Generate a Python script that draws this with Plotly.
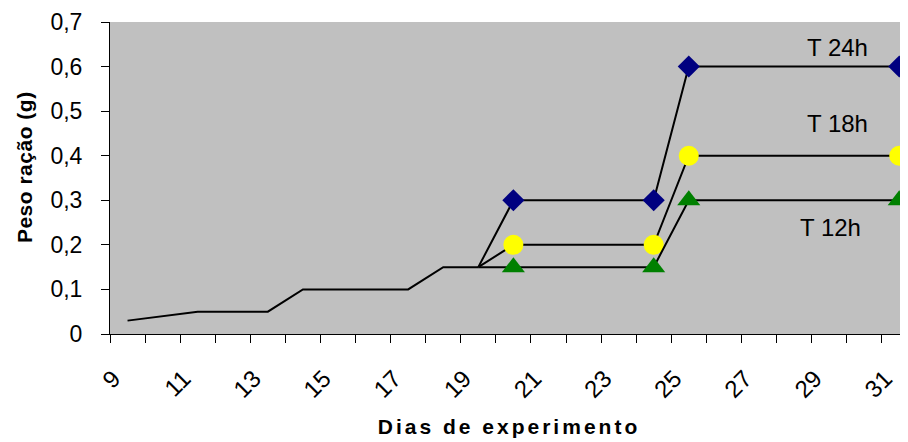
import plotly.graph_objects as go

# ---- data ----
days = list(range(9, 32))
tick_labels = [str(d) if d % 2 == 1 else "" for d in days]

base = [0.03, 0.04, 0.05, 0.05, 0.05, 0.10, 0.10, 0.10, 0.10, 0.15, 0.15] + [None] * 12
t24 = [None] * 10 + [0.15, 0.30, None, None, None, 0.30, 0.60, None, None, None, None, None, 0.60]
t18 = [None] * 10 + [0.15, 0.20, None, None, None, 0.20, 0.40, None, None, None, None, None, 0.40]
t12 = [None] * 10 + [0.15, 0.15, None, None, None, 0.15, 0.30, None, None, None, None, None, 0.30]

series_names = ["T 24h", "T 18h", "T 12h"]
y_ticks = [0, 0.1, 0.2, 0.3, 0.4, 0.5, 0.6, 0.7]
x_title = "Dias de experimento"
y_title = "Peso ração (g)"

FONT = "Liberation Sans, Arial, sans-serif"
cats = [str(d) for d in days]

fig = go.Figure()

fig.add_trace(go.Scatter(x=cats, y=base, mode="lines", line=dict(color="black", width=2),
                         connectgaps=True, showlegend=False))

styles = [
    (t24, "diamond", "#000080", 17),
    (t18, "circle", "#FFFF00", 20),
    (t12, "triangle-up", "#008000", 20),
]
for (vals, sym, col, sz), name in zip(styles, series_names):
    sizes = [0 if d == 19 else sz for d in days]
    fig.add_trace(go.Scatter(
        x=cats, y=vals, mode="lines+markers", name=name,
        line=dict(color="black", width=2), connectgaps=True,
        marker=dict(symbol=sym, color=col, size=sizes, opacity=1, line=dict(width=0)),
        cliponaxis=False, showlegend=False))

# series labels
label_pos = [(20.24, 0.642), (20.24, 0.472), (20.04, 0.24)]
for name, (xi, yi) in zip(series_names, label_pos):
    fig.add_annotation(x=xi, y=yi, xref="x", yref="y", text=name, showarrow=False,
                       font=dict(family=FONT, size=24, color="black"))

# y axis title (placed as rotated text, slightly above the axis centre as in the reference)
fig.add_annotation(x=0, y=0.535, xref="paper", yref="paper", xanchor="center", yanchor="middle",
                   xshift=-86, textangle=-90, showarrow=False,
                   text=f'<span style="letter-spacing:0.5px">{y_title}</span>',
                   font=dict(family=FONT, size=21, weight="bold", color="black"))

# the page body has an 8px default margin, so the figure is sized to fill the
# remaining 900x434 window area
fig.update_layout(
    width=900, height=434,
    margin=dict(l=102, r=0, t=14, b=108),
    paper_bgcolor="white", plot_bgcolor="#C0C0C0",
    separators=",.",
    font=dict(family=FONT, size=22, color="black"),
    showlegend=False,
)

fig.update_xaxes(
    type="category", categoryorder="array", categoryarray=cats,
    range=[-0.5, 22.25], automargin=False,
    tickmode="array", tickvals=cats, ticktext=tick_labels,
    tickson="boundaries", ticks="outside", ticklen=8, tickcolor="black", tickwidth=1,
    tickangle=-45, tickfont=dict(family=FONT, size=24),
    ticklabelshift=-14, ticklabelstandoff=20,
    showline=True, linecolor="black", linewidth=1, showgrid=False, zeroline=False,
    title=dict(text=f'<span style="letter-spacing:3px">{x_title}</span>',
               font=dict(family=FONT, size=21, weight="bold"), standoff=17),
)
fig.update_yaxes(
    range=[0, 0.7], tickmode="array", tickvals=y_ticks, automargin=False,
    ticks="outside", ticklen=8, tickcolor="black", tickwidth=1,
    tickfont=dict(family=FONT, size=23), ticklabelstandoff=14,
    showline=True, linecolor="black", linewidth=1, showgrid=False, zeroline=False,
)

fig.write_html("out.html")
